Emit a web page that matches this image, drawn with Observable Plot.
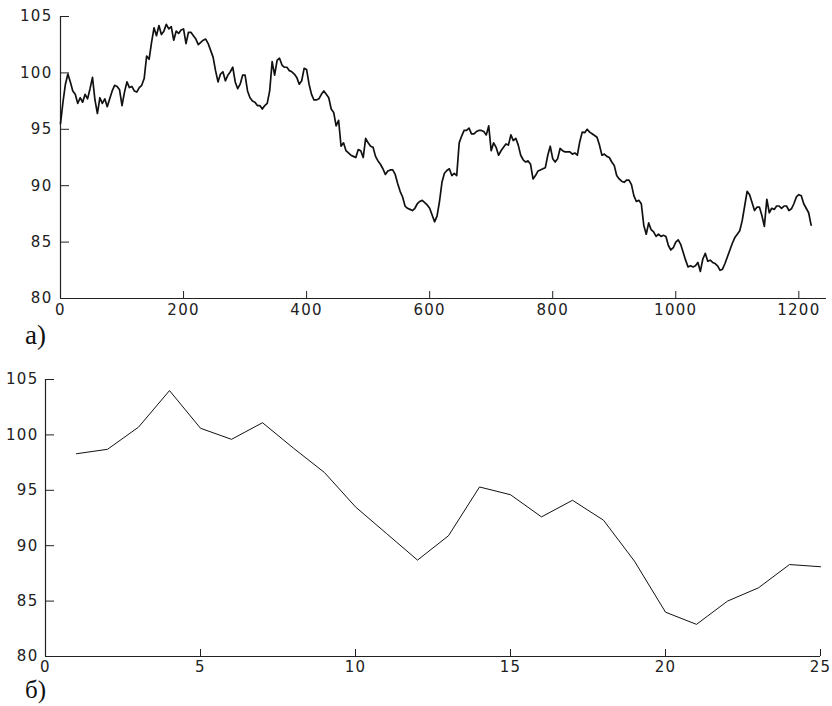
<!DOCTYPE html>
<html><head><meta charset="utf-8">
<script src="https://cdn.jsdelivr.net/npm/d3@7"></script>
<script src="https://cdn.jsdelivr.net/npm/@observablehq/plot@0.6"></script>
<style>
body{margin:0;background:#fff;}
#wrap{position:relative;width:832px;height:706px;overflow:hidden;background:#fff}
#top{position:absolute;left:0;top:0}
#bot{position:absolute;left:0;top:340px}
.lab{position:absolute;font-family:"Liberation Serif","Times New Roman",serif;font-size:27px;color:#111;line-height:1}
</style></head><body>
<div id="wrap"><div id="top"></div><div id="bot"></div>
<div class="lab" style="left:25px;top:322px">а)</div>
<div class="lab" style="left:25px;top:677px;font-size:25px">б)</div></div>
<script>
// ---- panel а): daily series, one value every 4 steps (read from the picture)
const topStep = 4;
const topValues = [
95.5,97.4,99.0,99.9,99.2,98.4,98.1,97.3,97.8,97.4,98.1,97.7,98.6,99.6,97.6,96.4,97.8,97.3,97.7,97.0,
97.7,98.4,98.9,98.8,98.5,97.1,98.3,99.2,98.7,98.8,98.4,98.3,98.7,98.9,99.5,101.5,101.2,102.7,104.0,103.3,
104.2,103.4,103.7,104.3,103.9,104.1,102.9,103.7,103.5,103.8,103.9,102.6,103.6,103.6,103.3,103.0,102.5,102.7,102.9,103.0,
102.6,102.0,101.4,100.2,99.2,99.9,100.1,99.3,99.8,100.1,100.5,99.2,98.6,99.0,99.8,99.8,98.4,97.8,97.5,97.4,
97.1,97.1,96.8,97.1,97.3,98.4,101.0,99.8,101.1,101.3,100.7,100.5,100.5,100.2,100.1,99.9,99.6,99.0,99.3,100.4,
100.3,99.0,98.1,97.6,97.6,97.7,98.1,98.4,98.1,97.8,96.8,96.5,95.3,95.8,93.5,93.8,93.1,92.9,92.7,92.6,
92.5,93.2,93.1,92.5,94.2,93.8,93.5,93.4,92.6,92.2,91.9,91.5,91.0,91.3,91.4,91.4,91.0,90.2,89.5,89.0,
88.2,88.0,87.9,87.8,88.0,88.4,88.6,88.7,88.5,88.3,88.0,87.4,86.8,87.3,88.6,90.3,91.1,91.35,91.5,90.9,
91.1,90.9,93.8,94.4,94.9,94.9,95.1,94.6,94.6,94.8,94.9,94.9,94.8,94.5,95.3,93.1,93.8,93.4,92.7,93.1,
93.4,93.7,93.6,94.5,94.0,94.2,93.6,92.7,92.3,92.1,92.2,91.9,90.6,90.9,91.3,91.4,91.5,91.6,92.7,93.5,
92.4,92.1,92.4,93.3,93.1,93.0,93.0,93.0,92.8,92.9,92.7,93.9,94.75,94.7,95.0,94.75,94.6,94.45,94.3,93.6,
92.7,92.8,92.6,92.5,92.1,91.8,90.9,90.6,90.4,90.3,90.5,90.5,90.1,89.1,88.6,88.7,88.4,86.5,85.7,86.7,
86.1,85.9,85.5,85.7,85.5,85.6,85.5,84.7,84.3,84.5,85.0,85.2,84.8,84.1,83.4,82.8,82.9,82.8,82.9,83.2,
82.4,83.5,84.0,83.3,83.4,83.2,83.1,82.9,82.5,82.6,83.1,83.7,84.3,84.9,85.4,85.7,86.0,86.9,88.2,89.5,
89.2,88.5,87.8,88.1,88.1,87.35,86.4,88.8,87.6,88.0,87.9,88.2,88.2,88.0,88.2,88.2,87.8,87.95,88.4,89.0,
89.2,89.1,88.4,88.0,87.6,86.5
];
const topXTicks = [0, 200, 400, 600, 800, 1000, 1200];
const topYTicks = [80, 85, 90, 95, 100, 105];

// ---- panel б): aggregated series
const botX = [1,2,3,4,5,6,7,8,9,10,11,12,13,14,15,16,17,18,19,20,21,22,23,24,25];
const botValues = [98.3,98.7,100.7,104.0,100.6,99.6,101.1,98.8,96.6,93.5,91.1,88.7,90.9,95.3,94.6,92.6,94.1,92.3,88.6,84.0,82.9,85.0,86.2,88.3,88.1];
const botXTicks = [0, 5, 10, 15, 20, 25];
const botYTicks = [80, 85, 90, 95, 100, 105];

const topData = topValues.map((v, i) => ({x: i * topStep, y: v}));
const botData = botX.map((x, i) => ({x, y: botValues[i]}));

const W = 832;
const axisStyle = {fontFamily: "DejaVu Sans", fontSize: "15px", color: "#222", letterSpacing: "1.3px", background: "white", overflow: "visible"};

function panel({data, height, mt, mb, ml, mr, xDomain, xTicks, yTicks, lineWidth, xPad, yPad}) {
  const innerH = height - mt - mb;
  const innerW = W - ml - mr;
  return Plot.plot({
    width: W, height,
    marginTop: mt, marginBottom: mb, marginLeft: ml, marginRight: mr,
    x: {domain: xDomain}, y: {domain: [80, 105]},
    style: axisStyle,
    marks: [
      Plot.ruleY([80], {stroke: "#222", strokeWidth: 1.2}),
      Plot.ruleX([xDomain[0]], {stroke: "#222", strokeWidth: 1.2}),
      Plot.tickX(xTicks.slice(1), {x: d => d, insetTop: innerH - 7, stroke: "#222"}),
      Plot.tickY(yTicks.slice(1), {y: d => d, insetRight: innerW - 9, stroke: "#222"}),
      Plot.axisX({ticks: xTicks, tickSize: 0, tickPadding: xPad, label: null, tickFormat: d => String(d)}),
      Plot.axisY({ticks: yTicks, tickSize: 0, tickPadding: yPad, label: null, tickFormat: d => String(d)}),
      Plot.line(data, {x: "x", y: "y", stroke: "#111", strokeWidth: lineWidth})
    ]
  });
}

document.getElementById("top").append(panel({
  data: topData, height: 340, mt: 16, mb: 42, ml: 60, mr: 6,
  xDomain: [0, 1245], xTicks: topXTicks, yTicks: topYTicks, lineWidth: 1.7, xPad: 6, yPad: 8
}));
document.getElementById("bot").append(panel({
  data: botData, height: 366, mt: 39, mb: 50, ml: 45, mr: 12,
  xDomain: [0, 25], xTicks: botXTicks, yTicks: botYTicks, lineWidth: 1, xPad: 5, yPad: 7
}));
</script></body></html>
